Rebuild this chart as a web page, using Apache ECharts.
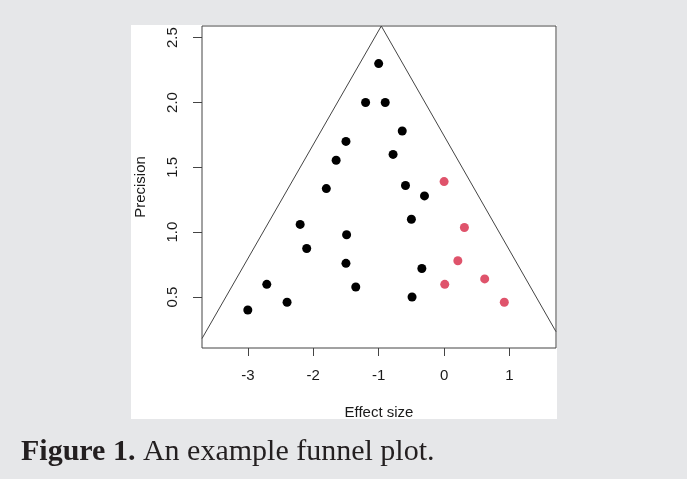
<!DOCTYPE html>
<html>
<head>
<meta charset="utf-8">
<script src="https://cdn.jsdelivr.net/npm/echarts@6/dist/echarts.min.js"></script>
<style>
  html, body { margin: 0; padding: 0; background: #e6e7e9; }
  #chart { width: 687px; height: 479px; }
</style>
</head>
<body>
<div id="chart"></div>
<script>
// funnel plot data: effect size vs precision (1/SE)
var xTicks = [-3, -2, -1, 0, 1];
var yTicks = [0.5, 1.0, 1.5, 2.0, 2.5];

// observed studies (black)
var obsEffect = [-1.00, -1.20, -0.90, -0.64, -1.50, -0.78, -1.65, -0.59, -1.80, -0.30, -0.50,
                 -2.20, -1.49, -2.10, -1.50, -0.34, -2.71, -1.35, -0.49, -2.40, -3.00];
var obsPrecision = [2.30, 2.00, 2.00, 1.78, 1.70, 1.60, 1.555, 1.36, 1.336, 1.28, 1.10,
                    1.06, 0.98, 0.874, 0.76, 0.72, 0.598, 0.577, 0.50, 0.46, 0.40];

// imputed studies (red)
var impEffect = [0.00, 0.31, 0.21, 0.62, 0.01, 0.92];
var impPrecision = [1.39, 1.036, 0.78, 0.64, 0.598, 0.46];

// funnel outline: left foot, apex, right foot
var funnelEffect = [-3.70, -0.96, 1.71];
var funnelPrecision = [0.18, 2.59, 0.233];

function pairs(xs, ys) {
  return xs.map(function (x, i) { return [x, ys[i]]; });
}

var ink = '#444';
var chart = echarts.init(document.getElementById('chart'), null, { renderer: 'canvas' });

chart.setOption({
  animation: false,
  backgroundColor: '#e6e7e9',
  textStyle: { fontFamily: 'Liberation Sans, Arial, sans-serif' },
  graphic: [
    {
      type: 'rect',
      z: -10,
      shape: { x: 131, y: 25, width: 426, height: 394 },
      style: { fill: '#fff' }
    },
    {
      type: 'text',
      left: 21,
      top: 437,
      style: {
        text: '{b|Figure 1.} An example funnel plot.',
        font: '30px "Liberation Serif", "Times New Roman", serif',
        fill: '#231f20',
        rich: {
          b: { fontWeight: 'bold', fontSize: 30, fontFamily: 'Liberation Serif', fill: '#231f20' }
        }
      }
    }
  ],
  grid: {
    left: 202, top: 26, width: 354, height: 322,
    show: true,
    backgroundColor: '#fff',
    borderColor: ink,
    borderWidth: 1
  },
  xAxis: {
    type: 'value',
    min: -3.70,
    max: 1.71,
    name: 'Effect size',
    nameLocation: 'middle',
    nameGap: 57,
    nameTextStyle: { color: '#1a1a1a', fontSize: 15, verticalAlign: 'top' },
    splitLine: { show: false },
    axisLine: { show: false, onZero: false },
    axisTick: { show: true, length: 8, lineStyle: { color: ink }, customValues: xTicks },
    axisLabel: {
      color: '#1a1a1a', fontSize: 15, margin: 20,
      customValues: xTicks,
      formatter: function (v) { return String(v); }
    }
  },
  yAxis: {
    type: 'value',
    min: 0.107,
    max: 2.59,
    name: 'Precision',
    nameLocation: 'middle',
    nameRotate: 90,
    nameGap: 54,
    nameTextStyle: { color: '#1a1a1a', fontSize: 15 },
    splitLine: { show: false },
    axisLine: { show: false, onZero: false },
    axisTick: { show: true, length: 9, lineStyle: { color: ink }, customValues: yTicks },
    axisLabel: {
      color: '#1a1a1a', fontSize: 15, margin: 22, rotate: 90,
      customValues: yTicks,
      formatter: function (v) { return v.toFixed(1); }
    }
  },
  series: [
    {
      name: 'Funnel',
      type: 'line',
      silent: true,
      symbol: 'none',
      data: pairs(funnelEffect, funnelPrecision),
      lineStyle: { color: ink, width: 1 },
      z: 1
    },
    {
      name: 'Observed',
      type: 'scatter',
      symbolSize: 9,
      data: pairs(obsEffect, obsPrecision),
      itemStyle: { color: '#000', opacity: 1 },
      z: 3
    },
    {
      name: 'Imputed',
      type: 'scatter',
      symbolSize: 9,
      data: pairs(impEffect, impPrecision),
      itemStyle: { color: '#df536b', opacity: 1 },
      z: 3
    }
  ]
});
</script>
</body>
</html>
